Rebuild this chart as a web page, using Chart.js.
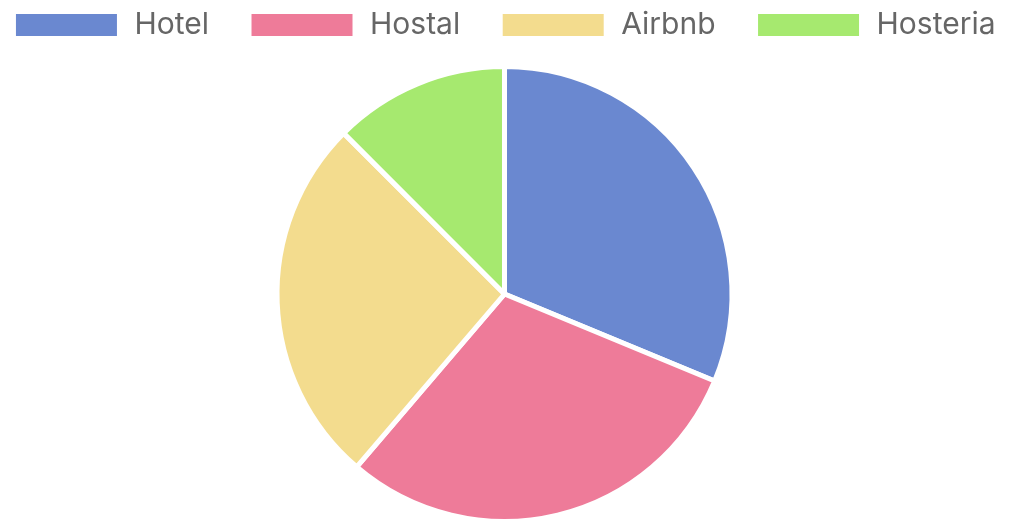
<!DOCTYPE html>
<html>
<head>
<meta charset="utf-8">
<title>Tipos de alojamiento</title>
<script src="https://cdn.jsdelivr.net/npm/chart.js@4/dist/chart.umd.min.js"></script>
<style>
    html, body { margin: 0; padding: 0; background: #fff; }
    .wrap { width: 1009px; height: 524px; position: relative; }
</style>
</head>
<body>
<div class="wrap"><canvas id="chartAlojamiento"></canvas></div>
<script>
/* ============================================================
   DATOS
============================================================ */
const tipos = ["Hotel", "Hostal", "Airbnb", "Hosteria"];
const reservas = [25, 24, 21, 10];
const colores = ["#6a88d0", "#ee7b99", "#f3dc8e", "#a6e96f"];

/* ============================================================
   ESPACIO EXTRA BAJO LA LEYENDA
============================================================ */
const legendSpacing = {
    id: "legendSpacing",
    beforeInit(chart) {
        if (!chart.legend) return;
        const fitOriginal = chart.legend.fit;
        chart.legend.fit = function () {
            fitOriginal.call(this);
            this.height += 14;
        };
    }
};

/* ============================================================
   GRÁFICA: PIE POR TIPO
============================================================ */
function chartAlojamiento() {
    const canvas = document.getElementById("chartAlojamiento");
    if (!canvas) return;

    const baseLabels = Chart.overrides.pie.plugins.legend.labels.generateLabels;

    new Chart(canvas, {
        type: "pie",
        data: {
            labels: tipos,
            datasets: [{
                data: reservas,
                backgroundColor: colores,
                borderColor: "#ffffff",
                borderWidth: 5
            }]
        },
        options: {
            responsive: true,
            maintainAspectRatio: false,
            animation: false,
            plugins: {
                legend: {
                    position: "top",
                    labels: {
                        boxWidth: 106,
                        boxHeight: 27,
                        padding: 10,
                        color: "#666666",
                        font: { family: "Inter, 'Liberation Sans', sans-serif", size: 30 },
                        // separa un poco más cada item del siguiente
                        generateLabels(chart) {
                            const items = baseLabels(chart);
                            items.forEach((it, i) => {
                                if (i < items.length - 1) it.text = it.text + "\u2003";
                            });
                            return items;
                        }
                    }
                },
                tooltip: { enabled: false }
            }
        },
        plugins: [legendSpacing]
    });
}

chartAlojamiento();
</script>
</body>
</html>
